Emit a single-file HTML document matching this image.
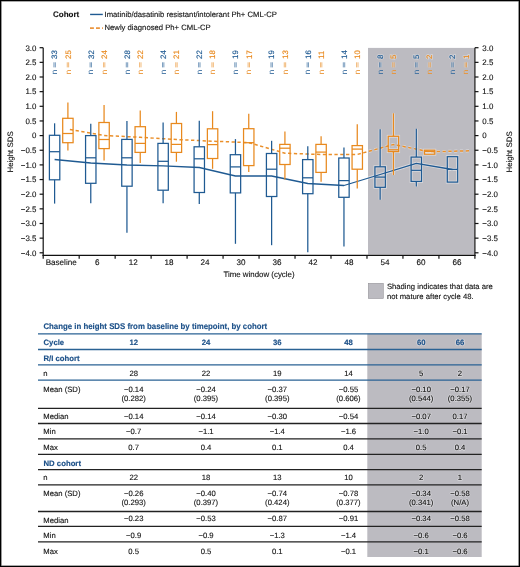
<!DOCTYPE html>
<html><head><meta charset="utf-8"><title>Height SDS</title><style>
html,body{margin:0;padding:0;background:#fff;}
body{width:520px;height:567px;overflow:hidden;position:relative;font-family:"Liberation Sans",sans-serif;}
svg{position:absolute;left:0;top:0;display:block;will-change:transform;}
.frame{position:absolute;left:0;top:0;width:518px;height:565px;border:1px solid #000;box-shadow:inset 0 0 0 0.6px #555;pointer-events:none;}
</style></head><body>
<svg width="520" height="567" viewBox="0 0 520 567" text-rendering="geometricPrecision">
<rect x="368.00" y="47.9" width="106.30" height="206.80" fill="#bcbbc1"/>
<defs><clipPath id="gc"><rect x="368.00" y="47.9" width="106.30" height="206.80"/></clipPath></defs>
<g clip-path="url(#gc)" opacity="0.45">
<g stroke="#fff" stroke-width="2.9" fill="none"><line x1="343.96" y1="147.5" x2="343.96" y2="158.0"/><line x1="343.96" y1="197.3" x2="343.96" y2="246.5"/><rect x="338.76" y="158.0" width="10.4" height="39.30" fill="none"/><line x1="338.76" y1="180.6" x2="349.16" y2="180.6"/></g>
<g stroke="#fff" stroke-width="2.9" fill="none"><line x1="357.26" y1="124.2" x2="357.26" y2="145.6"/><line x1="357.26" y1="169.2" x2="357.26" y2="188.6"/><rect x="352.06" y="145.6" width="10.4" height="23.60" fill="none"/><line x1="352.06" y1="149.1" x2="362.46" y2="149.1"/></g>
<g stroke="#fff" stroke-width="2.9" fill="none"><line x1="380.13" y1="129.2" x2="380.13" y2="166.8"/><line x1="380.13" y1="187.3" x2="380.13" y2="199.7"/><rect x="374.93" y="166.8" width="10.4" height="20.50" fill="none"/><line x1="374.93" y1="177.1" x2="385.33" y2="177.1"/></g>
<g stroke="#fff" stroke-width="2.9" fill="none"><line x1="393.43" y1="113.3" x2="393.43" y2="136.3"/><line x1="393.43" y1="151.6" x2="393.43" y2="175.1"/><rect x="388.23" y="136.3" width="10.4" height="15.30" fill="none"/><line x1="388.23" y1="149.8" x2="398.63" y2="149.8"/></g>
<g stroke="#fff" stroke-width="2.9" fill="none"><line x1="416.30" y1="128.8" x2="416.30" y2="157.1"/><line x1="416.30" y1="181.4" x2="416.30" y2="186.6"/><rect x="411.10" y="157.1" width="10.4" height="24.30" fill="none"/><line x1="411.10" y1="170.3" x2="421.50" y2="170.3"/></g>
<g stroke="#fff" stroke-width="2.9" fill="none"><rect x="424.40" y="150.2" width="10.4" height="4.00" fill="none"/><line x1="424.40" y1="151.4" x2="434.80" y2="151.4"/></g>
<g stroke="#fff" stroke-width="2.9" fill="none"><rect x="447.27" y="156.7" width="10.4" height="25.40" fill="none"/><line x1="447.27" y1="169.4" x2="457.67" y2="169.4"/></g>
<polyline points="54.60,159.5 90.77,163.0 126.94,165.0 163.11,165.9 199.28,167.5 235.45,176.0 271.62,176.0 307.79,183.5 343.96,185.5 380.13,174.5 416.30,163.3 452.47,169.5" fill="none" stroke="#fff" stroke-width="3"/>
<polyline points="67.90,129.2 104.07,135.5 140.24,137.3 176.41,139.5 212.58,141.2 248.75,142.6 284.92,153.2 321.09,154.5 357.26,154.5 393.43,144.5 429.60,151.8 469.5,150.8" fill="none" stroke="#fff" stroke-width="3" stroke-dasharray="3.2 2.6" stroke-dashoffset="-2"/>
</g>
<polyline points="54.60,159.5 90.77,163.0 126.94,165.0 163.11,165.9 199.28,167.5 235.45,176.0 271.62,176.0 307.79,183.5 343.96,185.5 380.13,174.5 416.30,163.3 452.47,169.5" fill="none" stroke="#1f5a92" stroke-width="1.3" stroke-linejoin="round"/>
<polyline points="67.90,129.2 104.07,135.5 140.24,137.3 176.41,139.5 212.58,141.2 248.75,142.6 284.92,153.2 321.09,154.5 357.26,154.5 393.43,144.5 429.60,151.8 469.5,150.8" fill="none" stroke="#ea8f2a" stroke-width="1.5" stroke-dasharray="3.3 2.5" stroke-dashoffset="-2"/>
<g stroke="#1f5a92" stroke-width="1.25" fill="none"><line x1="54.60" y1="123.3" x2="54.60" y2="135.3"/><line x1="54.60" y1="179.8" x2="54.60" y2="203.6"/><rect x="49.40" y="135.3" width="10.4" height="44.50" fill="none"/><line x1="49.40" y1="151.7" x2="59.80" y2="151.7"/></g>
<g stroke="#e8891e" stroke-width="1.25" fill="none"><line x1="67.90" y1="102.5" x2="67.90" y2="118.3"/><line x1="67.90" y1="142.7" x2="67.90" y2="150.6"/><rect x="62.70" y="118.3" width="10.4" height="24.40" fill="none"/><line x1="62.70" y1="133.5" x2="73.10" y2="133.5"/></g>
<g stroke="#1f5a92" stroke-width="1.25" fill="none"><line x1="90.77" y1="123.7" x2="90.77" y2="135.6"/><line x1="90.77" y1="183.3" x2="90.77" y2="203.2"/><rect x="85.57" y="135.6" width="10.4" height="47.70" fill="none"/><line x1="85.57" y1="157.8" x2="95.97" y2="157.8"/></g>
<g stroke="#e8891e" stroke-width="1.25" fill="none"><line x1="104.07" y1="105.0" x2="104.07" y2="122.5"/><line x1="104.07" y1="148.6" x2="104.07" y2="160.5"/><rect x="98.87" y="122.5" width="10.4" height="26.10" fill="none"/><line x1="98.87" y1="139.5" x2="109.27" y2="139.5"/></g>
<g stroke="#1f5a92" stroke-width="1.25" fill="none"><line x1="126.94" y1="121.1" x2="126.94" y2="139.4"/><line x1="126.94" y1="186.2" x2="126.94" y2="232.7"/><rect x="121.74" y="139.4" width="10.4" height="46.80" fill="none"/><line x1="121.74" y1="157.8" x2="132.14" y2="157.8"/></g>
<g stroke="#e8891e" stroke-width="1.25" fill="none"><line x1="140.24" y1="110.5" x2="140.24" y2="126.7"/><line x1="140.24" y1="152.4" x2="140.24" y2="163.1"/><rect x="135.04" y="126.7" width="10.4" height="25.70" fill="none"/><line x1="135.04" y1="143.4" x2="145.44" y2="143.4"/></g>
<g stroke="#1f5a92" stroke-width="1.25" fill="none"><line x1="163.11" y1="122.5" x2="163.11" y2="143.4"/><line x1="163.11" y1="190.2" x2="163.11" y2="203.2"/><rect x="157.91" y="143.4" width="10.4" height="46.80" fill="none"/><line x1="157.91" y1="161.3" x2="168.31" y2="161.3"/></g>
<g stroke="#e8891e" stroke-width="1.25" fill="none"><line x1="176.41" y1="111.9" x2="176.41" y2="123.5"/><line x1="176.41" y1="152.4" x2="176.41" y2="161.7"/><rect x="171.21" y="123.5" width="10.4" height="28.90" fill="none"/><line x1="171.21" y1="144.4" x2="181.61" y2="144.4"/></g>
<g stroke="#1f5a92" stroke-width="1.25" fill="none"><line x1="199.28" y1="120.8" x2="199.28" y2="146.8"/><line x1="199.28" y1="192.5" x2="199.28" y2="204.1"/><rect x="194.08" y="146.8" width="10.4" height="45.70" fill="none"/><line x1="194.08" y1="158.8" x2="204.48" y2="158.8"/></g>
<g stroke="#e8891e" stroke-width="1.25" fill="none"><line x1="212.58" y1="111.2" x2="212.58" y2="128.8"/><line x1="212.58" y1="158.5" x2="212.58" y2="168.8"/><rect x="207.38" y="128.8" width="10.4" height="29.70" fill="none"/><line x1="207.38" y1="144.6" x2="217.78" y2="144.6"/></g>
<g stroke="#1f5a92" stroke-width="1.25" fill="none"><line x1="235.45" y1="139.1" x2="235.45" y2="154.7"/><line x1="235.45" y1="192.9" x2="235.45" y2="243.8"/><rect x="230.25" y="154.7" width="10.4" height="38.20" fill="none"/><line x1="230.25" y1="166.9" x2="240.65" y2="166.9"/></g>
<g stroke="#e8891e" stroke-width="1.25" fill="none"><line x1="248.75" y1="113.7" x2="248.75" y2="128.7"/><line x1="248.75" y1="165.6" x2="248.75" y2="171.9"/><rect x="243.55" y="128.7" width="10.4" height="36.90" fill="none"/><line x1="243.55" y1="142.7" x2="253.95" y2="142.7"/></g>
<g stroke="#1f5a92" stroke-width="1.25" fill="none"><line x1="271.62" y1="140.8" x2="271.62" y2="153.5"/><line x1="271.62" y1="196.5" x2="271.62" y2="245.2"/><rect x="266.42" y="153.5" width="10.4" height="43.00" fill="none"/><line x1="266.42" y1="169.2" x2="276.82" y2="169.2"/></g>
<g stroke="#e8891e" stroke-width="1.25" fill="none"><line x1="284.92" y1="131.6" x2="284.92" y2="144.4"/><line x1="284.92" y1="164.5" x2="284.92" y2="179.4"/><rect x="279.72" y="144.4" width="10.4" height="20.10" fill="none"/><line x1="279.72" y1="148.2" x2="290.12" y2="148.2"/></g>
<g stroke="#1f5a92" stroke-width="1.25" fill="none"><line x1="307.79" y1="146.2" x2="307.79" y2="159.6"/><line x1="307.79" y1="193.7" x2="307.79" y2="252.3"/><rect x="302.59" y="159.6" width="10.4" height="34.10" fill="none"/><line x1="302.59" y1="177.8" x2="312.99" y2="177.8"/></g>
<g stroke="#e8891e" stroke-width="1.25" fill="none"><line x1="321.09" y1="136.3" x2="321.09" y2="144.4"/><line x1="321.09" y1="172.4" x2="321.09" y2="181.7"/><rect x="315.89" y="144.4" width="10.4" height="28.00" fill="none"/><line x1="315.89" y1="152.1" x2="326.29" y2="152.1"/></g>
<g stroke="#1f5a92" stroke-width="1.25" fill="none"><line x1="343.96" y1="147.5" x2="343.96" y2="158.0"/><line x1="343.96" y1="197.3" x2="343.96" y2="246.5"/><rect x="338.76" y="158.0" width="10.4" height="39.30" fill="none"/><line x1="338.76" y1="180.6" x2="349.16" y2="180.6"/></g>
<g stroke="#e8891e" stroke-width="1.25" fill="none"><line x1="357.26" y1="124.2" x2="357.26" y2="145.6"/><line x1="357.26" y1="169.2" x2="357.26" y2="188.6"/><rect x="352.06" y="145.6" width="10.4" height="23.60" fill="none"/><line x1="352.06" y1="149.1" x2="362.46" y2="149.1"/></g>
<g stroke="#1f5a92" stroke-width="1.25" fill="none"><line x1="380.13" y1="129.2" x2="380.13" y2="166.8"/><line x1="380.13" y1="187.3" x2="380.13" y2="199.7"/><rect x="374.93" y="166.8" width="10.4" height="20.50" fill="none"/><line x1="374.93" y1="177.1" x2="385.33" y2="177.1"/></g>
<g stroke="#e8891e" stroke-width="1.25" fill="none"><line x1="393.43" y1="113.3" x2="393.43" y2="136.3"/><line x1="393.43" y1="151.6" x2="393.43" y2="175.1"/><rect x="388.23" y="136.3" width="10.4" height="15.30" fill="none"/><line x1="388.23" y1="149.8" x2="398.63" y2="149.8"/></g>
<g stroke="#1f5a92" stroke-width="1.25" fill="none"><line x1="416.30" y1="128.8" x2="416.30" y2="157.1"/><line x1="416.30" y1="181.4" x2="416.30" y2="186.6"/><rect x="411.10" y="157.1" width="10.4" height="24.30" fill="none"/><line x1="411.10" y1="170.3" x2="421.50" y2="170.3"/></g>
<g stroke="#e8891e" stroke-width="1.25" fill="none"><rect x="424.40" y="150.2" width="10.4" height="4.00" fill="none"/><line x1="424.40" y1="151.4" x2="434.80" y2="151.4"/></g>
<g stroke="#1f5a92" stroke-width="1.25" fill="none"><rect x="447.27" y="156.7" width="10.4" height="25.40" fill="none"/><line x1="447.27" y1="169.4" x2="457.67" y2="169.4"/></g>
<line x1="425.80" y1="152.9" x2="433.40" y2="152.9" stroke="#f3e6d8" stroke-width="0.8"/>
<g stroke="#111" stroke-width="1.2" fill="none">
<line x1="43.2" y1="47.7" x2="43.2" y2="255.9"/>
<line x1="474.9" y1="47.7" x2="474.9" y2="255.9"/>
<line x1="42.6" y1="255.3" x2="475.5" y2="255.3"/>
<line x1="39.6" y1="47.70" x2="43.2" y2="47.70"/>
<line x1="474.9" y1="47.70" x2="478.5" y2="47.70"/>
<line x1="39.6" y1="62.35" x2="43.2" y2="62.35"/>
<line x1="474.9" y1="62.35" x2="478.5" y2="62.35"/>
<line x1="39.6" y1="77.00" x2="43.2" y2="77.00"/>
<line x1="474.9" y1="77.00" x2="478.5" y2="77.00"/>
<line x1="39.6" y1="91.65" x2="43.2" y2="91.65"/>
<line x1="474.9" y1="91.65" x2="478.5" y2="91.65"/>
<line x1="39.6" y1="106.30" x2="43.2" y2="106.30"/>
<line x1="474.9" y1="106.30" x2="478.5" y2="106.30"/>
<line x1="39.6" y1="120.95" x2="43.2" y2="120.95"/>
<line x1="474.9" y1="120.95" x2="478.5" y2="120.95"/>
<line x1="39.6" y1="135.60" x2="43.2" y2="135.60"/>
<line x1="474.9" y1="135.60" x2="478.5" y2="135.60"/>
<line x1="39.6" y1="150.25" x2="43.2" y2="150.25"/>
<line x1="474.9" y1="150.25" x2="478.5" y2="150.25"/>
<line x1="39.6" y1="164.90" x2="43.2" y2="164.90"/>
<line x1="474.9" y1="164.90" x2="478.5" y2="164.90"/>
<line x1="39.6" y1="179.55" x2="43.2" y2="179.55"/>
<line x1="474.9" y1="179.55" x2="478.5" y2="179.55"/>
<line x1="39.6" y1="194.20" x2="43.2" y2="194.20"/>
<line x1="474.9" y1="194.20" x2="478.5" y2="194.20"/>
<line x1="39.6" y1="208.85" x2="43.2" y2="208.85"/>
<line x1="474.9" y1="208.85" x2="478.5" y2="208.85"/>
<line x1="39.6" y1="223.50" x2="43.2" y2="223.50"/>
<line x1="474.9" y1="223.50" x2="478.5" y2="223.50"/>
<line x1="39.6" y1="238.15" x2="43.2" y2="238.15"/>
<line x1="474.9" y1="238.15" x2="478.5" y2="238.15"/>
<line x1="39.6" y1="252.80" x2="43.2" y2="252.80"/>
<line x1="474.9" y1="252.80" x2="478.5" y2="252.80"/>
<line x1="43.20" y1="255.3" x2="43.20" y2="258.7"/>
<line x1="79.18" y1="255.3" x2="79.18" y2="258.7"/>
<line x1="115.15" y1="255.3" x2="115.15" y2="258.7"/>
<line x1="151.12" y1="255.3" x2="151.12" y2="258.7"/>
<line x1="187.10" y1="255.3" x2="187.10" y2="258.7"/>
<line x1="223.07" y1="255.3" x2="223.07" y2="258.7"/>
<line x1="259.05" y1="255.3" x2="259.05" y2="258.7"/>
<line x1="295.03" y1="255.3" x2="295.03" y2="258.7"/>
<line x1="331.00" y1="255.3" x2="331.00" y2="258.7"/>
<line x1="366.98" y1="255.3" x2="366.98" y2="258.7"/>
<line x1="402.95" y1="255.3" x2="402.95" y2="258.7"/>
<line x1="438.93" y1="255.3" x2="438.93" y2="258.7"/>
<line x1="474.90" y1="255.3" x2="474.90" y2="258.7"/>
</g>
<g font-family="Liberation Sans, sans-serif" font-size="7.9" fill="#111111" stroke="#111" stroke-width="0.12">
<text x="36.4" y="50.50" text-anchor="end">3.0</text>
<text x="482.3" y="50.50">3.0</text>
<text x="36.4" y="65.15" text-anchor="end">2.5</text>
<text x="482.3" y="65.15">2.5</text>
<text x="36.4" y="79.80" text-anchor="end">2.0</text>
<text x="482.3" y="79.80">2.0</text>
<text x="36.4" y="94.45" text-anchor="end">1.5</text>
<text x="482.3" y="94.45">1.5</text>
<text x="36.4" y="109.10" text-anchor="end">1.0</text>
<text x="482.3" y="109.10">1.0</text>
<text x="36.4" y="123.75" text-anchor="end">0.5</text>
<text x="482.3" y="123.75">0.5</text>
<text x="36.4" y="138.40" text-anchor="end">0</text>
<text x="482.3" y="138.40">0</text>
<text x="36.4" y="153.05" text-anchor="end">−0.5</text>
<text x="482.3" y="153.05">−0.5</text>
<text x="36.4" y="167.70" text-anchor="end">−1.0</text>
<text x="482.3" y="167.70">−1.0</text>
<text x="36.4" y="182.35" text-anchor="end">−1.5</text>
<text x="482.3" y="182.35">−1.5</text>
<text x="36.4" y="197.00" text-anchor="end">−2.0</text>
<text x="482.3" y="197.00">−2.0</text>
<text x="36.4" y="211.65" text-anchor="end">−2.5</text>
<text x="482.3" y="211.65">−2.5</text>
<text x="36.4" y="226.30" text-anchor="end">−3.0</text>
<text x="482.3" y="226.30">−3.0</text>
<text x="36.4" y="240.95" text-anchor="end">−3.5</text>
<text x="482.3" y="240.95">−3.5</text>
<text x="36.4" y="255.60" text-anchor="end">−4.0</text>
<text x="482.3" y="255.60">−4.0</text>
<text x="61.19" y="265.1" text-anchor="middle" font-size="8.1">Baseline</text>
<text x="97.16" y="265.1" text-anchor="middle" font-size="8.1">6</text>
<text x="133.14" y="265.1" text-anchor="middle" font-size="8.1">12</text>
<text x="169.11" y="265.1" text-anchor="middle" font-size="8.1">18</text>
<text x="205.09" y="265.1" text-anchor="middle" font-size="8.1">24</text>
<text x="241.06" y="265.1" text-anchor="middle" font-size="8.1">30</text>
<text x="277.04" y="265.1" text-anchor="middle" font-size="8.1">36</text>
<text x="313.01" y="265.1" text-anchor="middle" font-size="8.1">42</text>
<text x="348.99" y="265.1" text-anchor="middle" font-size="8.1">48</text>
<text x="384.96" y="265.1" text-anchor="middle" font-size="8.1">54</text>
<text x="420.94" y="265.1" text-anchor="middle" font-size="8.1">60</text>
<text x="456.91" y="265.1" text-anchor="middle" font-size="8.1">66</text>
<text x="259" y="277.4" text-anchor="middle">Time window (cycle)</text>
<text transform="translate(13.2,151.9) rotate(-90)" text-anchor="middle">Height SDS</text>
<text transform="translate(511.8,151.9) rotate(-90)" text-anchor="middle">Height SDS</text>
</g>
<g font-family="Liberation Sans, sans-serif" font-size="8.2">
<g opacity="0.4">
<text transform="translate(382.73,74.3) rotate(-90)" fill="#fff" font-size="8">n</text><line x1="379.48" y1="62.3" x2="379.48" y2="67.4" stroke="#fff" stroke-width="2.4" opacity="0.8"/><line x1="380.88" y1="62.3" x2="380.88" y2="67.4" stroke="#fff" stroke-width="2.4" opacity="0.8"/><text transform="translate(382.88,59.0) rotate(-90)" fill="#fff" stroke="#fff" stroke-width="1.6" font-size="7.9">8</text>
<text transform="translate(396.03,74.3) rotate(-90)" fill="#fff" font-size="8">n</text><line x1="392.78" y1="62.3" x2="392.78" y2="67.4" stroke="#fff" stroke-width="2.4" opacity="0.8"/><line x1="394.18" y1="62.3" x2="394.18" y2="67.4" stroke="#fff" stroke-width="2.4" opacity="0.8"/><text transform="translate(396.18,59.0) rotate(-90)" fill="#fff" stroke="#fff" stroke-width="1.6" font-size="7.9">5</text>
<text transform="translate(418.90,74.3) rotate(-90)" fill="#fff" font-size="8">n</text><line x1="415.65" y1="62.3" x2="415.65" y2="67.4" stroke="#fff" stroke-width="2.4" opacity="0.8"/><line x1="417.05" y1="62.3" x2="417.05" y2="67.4" stroke="#fff" stroke-width="2.4" opacity="0.8"/><text transform="translate(419.05,59.0) rotate(-90)" fill="#fff" stroke="#fff" stroke-width="1.6" font-size="7.9">5</text>
<text transform="translate(432.20,74.3) rotate(-90)" fill="#fff" font-size="8">n</text><line x1="428.95" y1="62.3" x2="428.95" y2="67.4" stroke="#fff" stroke-width="2.4" opacity="0.8"/><line x1="430.35" y1="62.3" x2="430.35" y2="67.4" stroke="#fff" stroke-width="2.4" opacity="0.8"/><text transform="translate(432.35,59.0) rotate(-90)" fill="#fff" stroke="#fff" stroke-width="1.6" font-size="7.9">2</text>
<text transform="translate(455.07,74.3) rotate(-90)" fill="#fff" font-size="8">n</text><line x1="451.82" y1="62.3" x2="451.82" y2="67.4" stroke="#fff" stroke-width="2.4" opacity="0.8"/><line x1="453.22" y1="62.3" x2="453.22" y2="67.4" stroke="#fff" stroke-width="2.4" opacity="0.8"/><text transform="translate(455.22,59.0) rotate(-90)" fill="#fff" stroke="#fff" stroke-width="1.6" font-size="7.9">2</text>
<text transform="translate(468.37,74.3) rotate(-90)" fill="#fff" font-size="8">n</text><line x1="465.12" y1="62.3" x2="465.12" y2="67.4" stroke="#fff" stroke-width="2.4" opacity="0.8"/><line x1="466.52" y1="62.3" x2="466.52" y2="67.4" stroke="#fff" stroke-width="2.4" opacity="0.8"/><text transform="translate(468.52,59.0) rotate(-90)" fill="#fff" stroke="#fff" stroke-width="1.6" font-size="7.9">1</text>
</g>
<text transform="translate(57.20,74.3) rotate(-90)" fill="#1f5a92" font-size="8">n</text><line x1="53.95" y1="62.3" x2="53.95" y2="67.4" stroke="#1f5a92" stroke-width="0.75" opacity="0.8"/><line x1="55.35" y1="62.3" x2="55.35" y2="67.4" stroke="#1f5a92" stroke-width="0.75" opacity="0.8"/><text transform="translate(57.35,59.0) rotate(-90)" fill="#1f5a92" stroke="#1f5a92" stroke-width="0.15" font-size="7.9">33</text>
<text transform="translate(70.50,74.3) rotate(-90)" fill="#e8891e" font-size="8">n</text><line x1="67.25" y1="62.3" x2="67.25" y2="67.4" stroke="#e8891e" stroke-width="0.75" opacity="0.8"/><line x1="68.65" y1="62.3" x2="68.65" y2="67.4" stroke="#e8891e" stroke-width="0.75" opacity="0.8"/><text transform="translate(70.65,59.0) rotate(-90)" fill="#e8891e" stroke="#e8891e" stroke-width="0.15" font-size="7.9">25</text>
<text transform="translate(93.37,74.3) rotate(-90)" fill="#1f5a92" font-size="8">n</text><line x1="90.12" y1="62.3" x2="90.12" y2="67.4" stroke="#1f5a92" stroke-width="0.75" opacity="0.8"/><line x1="91.52" y1="62.3" x2="91.52" y2="67.4" stroke="#1f5a92" stroke-width="0.75" opacity="0.8"/><text transform="translate(93.52,59.0) rotate(-90)" fill="#1f5a92" stroke="#1f5a92" stroke-width="0.15" font-size="7.9">32</text>
<text transform="translate(106.67,74.3) rotate(-90)" fill="#e8891e" font-size="8">n</text><line x1="103.42" y1="62.3" x2="103.42" y2="67.4" stroke="#e8891e" stroke-width="0.75" opacity="0.8"/><line x1="104.82" y1="62.3" x2="104.82" y2="67.4" stroke="#e8891e" stroke-width="0.75" opacity="0.8"/><text transform="translate(106.82,59.0) rotate(-90)" fill="#e8891e" stroke="#e8891e" stroke-width="0.15" font-size="7.9">24</text>
<text transform="translate(129.54,74.3) rotate(-90)" fill="#1f5a92" font-size="8">n</text><line x1="126.29" y1="62.3" x2="126.29" y2="67.4" stroke="#1f5a92" stroke-width="0.75" opacity="0.8"/><line x1="127.69" y1="62.3" x2="127.69" y2="67.4" stroke="#1f5a92" stroke-width="0.75" opacity="0.8"/><text transform="translate(129.69,59.0) rotate(-90)" fill="#1f5a92" stroke="#1f5a92" stroke-width="0.15" font-size="7.9">28</text>
<text transform="translate(142.84,74.3) rotate(-90)" fill="#e8891e" font-size="8">n</text><line x1="139.59" y1="62.3" x2="139.59" y2="67.4" stroke="#e8891e" stroke-width="0.75" opacity="0.8"/><line x1="140.99" y1="62.3" x2="140.99" y2="67.4" stroke="#e8891e" stroke-width="0.75" opacity="0.8"/><text transform="translate(142.99,59.0) rotate(-90)" fill="#e8891e" stroke="#e8891e" stroke-width="0.15" font-size="7.9">22</text>
<text transform="translate(165.71,74.3) rotate(-90)" fill="#1f5a92" font-size="8">n</text><line x1="162.46" y1="62.3" x2="162.46" y2="67.4" stroke="#1f5a92" stroke-width="0.75" opacity="0.8"/><line x1="163.86" y1="62.3" x2="163.86" y2="67.4" stroke="#1f5a92" stroke-width="0.75" opacity="0.8"/><text transform="translate(165.86,59.0) rotate(-90)" fill="#1f5a92" stroke="#1f5a92" stroke-width="0.15" font-size="7.9">24</text>
<text transform="translate(179.01,74.3) rotate(-90)" fill="#e8891e" font-size="8">n</text><line x1="175.76" y1="62.3" x2="175.76" y2="67.4" stroke="#e8891e" stroke-width="0.75" opacity="0.8"/><line x1="177.16" y1="62.3" x2="177.16" y2="67.4" stroke="#e8891e" stroke-width="0.75" opacity="0.8"/><text transform="translate(179.16,59.0) rotate(-90)" fill="#e8891e" stroke="#e8891e" stroke-width="0.15" font-size="7.9">21</text>
<text transform="translate(201.88,74.3) rotate(-90)" fill="#1f5a92" font-size="8">n</text><line x1="198.63" y1="62.3" x2="198.63" y2="67.4" stroke="#1f5a92" stroke-width="0.75" opacity="0.8"/><line x1="200.03" y1="62.3" x2="200.03" y2="67.4" stroke="#1f5a92" stroke-width="0.75" opacity="0.8"/><text transform="translate(202.03,59.0) rotate(-90)" fill="#1f5a92" stroke="#1f5a92" stroke-width="0.15" font-size="7.9">22</text>
<text transform="translate(215.18,74.3) rotate(-90)" fill="#e8891e" font-size="8">n</text><line x1="211.93" y1="62.3" x2="211.93" y2="67.4" stroke="#e8891e" stroke-width="0.75" opacity="0.8"/><line x1="213.33" y1="62.3" x2="213.33" y2="67.4" stroke="#e8891e" stroke-width="0.75" opacity="0.8"/><text transform="translate(215.33,59.0) rotate(-90)" fill="#e8891e" stroke="#e8891e" stroke-width="0.15" font-size="7.9">18</text>
<text transform="translate(238.05,74.3) rotate(-90)" fill="#1f5a92" font-size="8">n</text><line x1="234.80" y1="62.3" x2="234.80" y2="67.4" stroke="#1f5a92" stroke-width="0.75" opacity="0.8"/><line x1="236.20" y1="62.3" x2="236.20" y2="67.4" stroke="#1f5a92" stroke-width="0.75" opacity="0.8"/><text transform="translate(238.20,59.0) rotate(-90)" fill="#1f5a92" stroke="#1f5a92" stroke-width="0.15" font-size="7.9">19</text>
<text transform="translate(251.35,74.3) rotate(-90)" fill="#e8891e" font-size="8">n</text><line x1="248.10" y1="62.3" x2="248.10" y2="67.4" stroke="#e8891e" stroke-width="0.75" opacity="0.8"/><line x1="249.50" y1="62.3" x2="249.50" y2="67.4" stroke="#e8891e" stroke-width="0.75" opacity="0.8"/><text transform="translate(251.50,59.0) rotate(-90)" fill="#e8891e" stroke="#e8891e" stroke-width="0.15" font-size="7.9">17</text>
<text transform="translate(274.22,74.3) rotate(-90)" fill="#1f5a92" font-size="8">n</text><line x1="270.97" y1="62.3" x2="270.97" y2="67.4" stroke="#1f5a92" stroke-width="0.75" opacity="0.8"/><line x1="272.37" y1="62.3" x2="272.37" y2="67.4" stroke="#1f5a92" stroke-width="0.75" opacity="0.8"/><text transform="translate(274.37,59.0) rotate(-90)" fill="#1f5a92" stroke="#1f5a92" stroke-width="0.15" font-size="7.9">19</text>
<text transform="translate(287.52,74.3) rotate(-90)" fill="#e8891e" font-size="8">n</text><line x1="284.27" y1="62.3" x2="284.27" y2="67.4" stroke="#e8891e" stroke-width="0.75" opacity="0.8"/><line x1="285.67" y1="62.3" x2="285.67" y2="67.4" stroke="#e8891e" stroke-width="0.75" opacity="0.8"/><text transform="translate(287.67,59.0) rotate(-90)" fill="#e8891e" stroke="#e8891e" stroke-width="0.15" font-size="7.9">13</text>
<text transform="translate(310.39,74.3) rotate(-90)" fill="#1f5a92" font-size="8">n</text><line x1="307.14" y1="62.3" x2="307.14" y2="67.4" stroke="#1f5a92" stroke-width="0.75" opacity="0.8"/><line x1="308.54" y1="62.3" x2="308.54" y2="67.4" stroke="#1f5a92" stroke-width="0.75" opacity="0.8"/><text transform="translate(310.54,59.0) rotate(-90)" fill="#1f5a92" stroke="#1f5a92" stroke-width="0.15" font-size="7.9">16</text>
<text transform="translate(323.69,74.3) rotate(-90)" fill="#e8891e" font-size="8">n</text><line x1="320.44" y1="62.3" x2="320.44" y2="67.4" stroke="#e8891e" stroke-width="0.75" opacity="0.8"/><line x1="321.84" y1="62.3" x2="321.84" y2="67.4" stroke="#e8891e" stroke-width="0.75" opacity="0.8"/><text transform="translate(323.84,59.0) rotate(-90)" fill="#e8891e" stroke="#e8891e" stroke-width="0.15" font-size="7.9">11</text>
<text transform="translate(346.56,74.3) rotate(-90)" fill="#1f5a92" font-size="8">n</text><line x1="343.31" y1="62.3" x2="343.31" y2="67.4" stroke="#1f5a92" stroke-width="0.75" opacity="0.8"/><line x1="344.71" y1="62.3" x2="344.71" y2="67.4" stroke="#1f5a92" stroke-width="0.75" opacity="0.8"/><text transform="translate(346.71,59.0) rotate(-90)" fill="#1f5a92" stroke="#1f5a92" stroke-width="0.15" font-size="7.9">14</text>
<text transform="translate(359.86,74.3) rotate(-90)" fill="#e8891e" font-size="8">n</text><line x1="356.61" y1="62.3" x2="356.61" y2="67.4" stroke="#e8891e" stroke-width="0.75" opacity="0.8"/><line x1="358.01" y1="62.3" x2="358.01" y2="67.4" stroke="#e8891e" stroke-width="0.75" opacity="0.8"/><text transform="translate(360.01,59.0) rotate(-90)" fill="#e8891e" stroke="#e8891e" stroke-width="0.15" font-size="7.9">10</text>
<text transform="translate(382.73,74.3) rotate(-90)" fill="#1f5a92" font-size="8">n</text><line x1="379.48" y1="62.3" x2="379.48" y2="67.4" stroke="#1f5a92" stroke-width="0.75" opacity="0.8"/><line x1="380.88" y1="62.3" x2="380.88" y2="67.4" stroke="#1f5a92" stroke-width="0.75" opacity="0.8"/><text transform="translate(382.88,59.0) rotate(-90)" fill="#1f5a92" stroke="#1f5a92" stroke-width="0.15" font-size="7.9">8</text>
<text transform="translate(396.03,74.3) rotate(-90)" fill="#e8891e" font-size="8">n</text><line x1="392.78" y1="62.3" x2="392.78" y2="67.4" stroke="#e8891e" stroke-width="0.75" opacity="0.8"/><line x1="394.18" y1="62.3" x2="394.18" y2="67.4" stroke="#e8891e" stroke-width="0.75" opacity="0.8"/><text transform="translate(396.18,59.0) rotate(-90)" fill="#e8891e" stroke="#e8891e" stroke-width="0.15" font-size="7.9">5</text>
<text transform="translate(418.90,74.3) rotate(-90)" fill="#1f5a92" font-size="8">n</text><line x1="415.65" y1="62.3" x2="415.65" y2="67.4" stroke="#1f5a92" stroke-width="0.75" opacity="0.8"/><line x1="417.05" y1="62.3" x2="417.05" y2="67.4" stroke="#1f5a92" stroke-width="0.75" opacity="0.8"/><text transform="translate(419.05,59.0) rotate(-90)" fill="#1f5a92" stroke="#1f5a92" stroke-width="0.15" font-size="7.9">5</text>
<text transform="translate(432.20,74.3) rotate(-90)" fill="#e8891e" font-size="8">n</text><line x1="428.95" y1="62.3" x2="428.95" y2="67.4" stroke="#e8891e" stroke-width="0.75" opacity="0.8"/><line x1="430.35" y1="62.3" x2="430.35" y2="67.4" stroke="#e8891e" stroke-width="0.75" opacity="0.8"/><text transform="translate(432.35,59.0) rotate(-90)" fill="#e8891e" stroke="#e8891e" stroke-width="0.15" font-size="7.9">2</text>
<text transform="translate(455.07,74.3) rotate(-90)" fill="#1f5a92" font-size="8">n</text><line x1="451.82" y1="62.3" x2="451.82" y2="67.4" stroke="#1f5a92" stroke-width="0.75" opacity="0.8"/><line x1="453.22" y1="62.3" x2="453.22" y2="67.4" stroke="#1f5a92" stroke-width="0.75" opacity="0.8"/><text transform="translate(455.22,59.0) rotate(-90)" fill="#1f5a92" stroke="#1f5a92" stroke-width="0.15" font-size="7.9">2</text>
<text transform="translate(468.37,74.3) rotate(-90)" fill="#e8891e" font-size="8">n</text><line x1="465.12" y1="62.3" x2="465.12" y2="67.4" stroke="#e8891e" stroke-width="0.75" opacity="0.8"/><line x1="466.52" y1="62.3" x2="466.52" y2="67.4" stroke="#e8891e" stroke-width="0.75" opacity="0.8"/><text transform="translate(468.52,59.0) rotate(-90)" fill="#e8891e" stroke="#e8891e" stroke-width="0.15" font-size="7.9">1</text>
</g>
<g font-family="Liberation Sans, sans-serif" font-size="7.7" fill="#111111" stroke="#111" stroke-width="0.12">
<text x="53" y="17.3" font-weight="bold" font-size="8">Cohort</text>
<line x1="90.1" y1="14.45" x2="102.8" y2="14.45" stroke="#1f5a92" stroke-width="1.4"/>
<line x1="90.0" y1="28.05" x2="102.9" y2="28.05" stroke="#eb9640" stroke-width="1.8" stroke-dasharray="3.9 2.1"/>
<text x="104.5" y="17.1">Imatinib/dasatinib resistant/intolerant Ph+ CML-CP</text>
<text x="104.5" y="30.1">Newly diagnosed Ph+ CML-CP</text>
<rect x="368.1" y="283.1" width="15.6" height="15.7" fill="#bcbbc1"/>
<text x="386.9" y="288.8">Shading indicates that data are</text>
<text x="386.9" y="298.5">not mature after cycle 48.</text>
</g>
<rect x="367.3" y="333.7" width="114.40" height="223.30" fill="#bcbbc1"/>
<line x1="38.0" y1="333.9" x2="481.7" y2="333.9" stroke="#2a6294" stroke-width="1.3"/>
<line x1="38.0" y1="349.5" x2="481.7" y2="349.5" stroke="#2a6294" stroke-width="1.3"/>
<line x1="38.0" y1="364.8" x2="481.7" y2="364.8" stroke="#2a6294" stroke-width="1.3"/>
<line x1="38.0" y1="380.2" x2="481.7" y2="380.2" stroke="#2a6294" stroke-width="1.3"/>
<line x1="38.0" y1="408.3" x2="481.7" y2="408.3" stroke="#222" stroke-width="1.3"/>
<line x1="38.0" y1="423.5" x2="481.7" y2="423.5" stroke="#222" stroke-width="1.3"/>
<line x1="38.0" y1="438.8" x2="481.7" y2="438.8" stroke="#222" stroke-width="1.3"/>
<line x1="38.0" y1="454.3" x2="481.7" y2="454.3" stroke="#222" stroke-width="1.3"/>
<line x1="38.0" y1="469.6" x2="481.7" y2="469.6" stroke="#222" stroke-width="1.3"/>
<line x1="38.0" y1="484.9" x2="481.7" y2="484.9" stroke="#222" stroke-width="1.3"/>
<line x1="38.0" y1="511.5" x2="481.7" y2="511.5" stroke="#222" stroke-width="1.3"/>
<line x1="38.0" y1="526.3" x2="481.7" y2="526.3" stroke="#222" stroke-width="1.3"/>
<line x1="38.0" y1="541.8" x2="481.7" y2="541.8" stroke="#222" stroke-width="1.3"/>
<g font-family="Liberation Sans, sans-serif" font-size="7.75" fill="#1d5189" font-weight="bold" stroke="#1d5189" stroke-width="0.15">
<text transform="translate(43.4,328.7) scale(0.95,1)" font-size="8.25">Change in height SDS from baseline by timepoint, by cohort</text>
<text x="43.5" y="344.7">Cycle</text>
<text x="421.2" y="344.7" text-anchor="middle" fill="none" stroke="#fff" stroke-width="1.6" opacity="0.4">60</text>
<text x="460.0" y="344.7" text-anchor="middle" fill="none" stroke="#fff" stroke-width="1.6" opacity="0.4">66</text>
<text x="133.7" y="344.7" text-anchor="middle">12</text>
<text x="206.0" y="344.7" text-anchor="middle">24</text>
<text x="277.3" y="344.7" text-anchor="middle">36</text>
<text x="348.5" y="344.7" text-anchor="middle">48</text>
<text x="421.2" y="344.7" text-anchor="middle">60</text>
<text x="460.0" y="344.7" text-anchor="middle">66</text>
<text x="43.5" y="360.8">R/I cohort</text>
<text x="43.5" y="466.1">ND cohort</text>
</g>
<g font-family="Liberation Sans, sans-serif" font-size="7.7" fill="none" stroke="#fff" stroke-width="1.6" opacity="0.4" stroke-linejoin="round">
<text x="421.2" y="375.8" text-anchor="middle">5</text>
<text x="460.0" y="375.8" text-anchor="middle">2</text>
<text x="421.2" y="391.7" text-anchor="middle">−0.10</text>
<text x="460.0" y="391.7" text-anchor="middle">−0.17</text>
<text x="421.2" y="401.3" text-anchor="middle">(0.544)</text>
<text x="460.0" y="401.3" text-anchor="middle">(0.355)</text>
<text x="421.2" y="418.7" text-anchor="middle">−0.07</text>
<text x="460.0" y="418.7" text-anchor="middle">0.17</text>
<text x="421.2" y="434.0" text-anchor="middle">−1.0</text>
<text x="460.0" y="434.0" text-anchor="middle">−0.1</text>
<text x="421.2" y="449.8" text-anchor="middle">0.5</text>
<text x="460.0" y="449.8" text-anchor="middle">0.4</text>
<text x="421.2" y="480.2" text-anchor="middle">2</text>
<text x="460.0" y="480.2" text-anchor="middle">1</text>
<text x="421.2" y="495.8" text-anchor="middle">−0.34</text>
<text x="460.0" y="495.8" text-anchor="middle">−0.58</text>
<text x="421.2" y="505.4" text-anchor="middle">(0.341)</text>
<text x="460.0" y="505.4" text-anchor="middle">(N/A)</text>
<text x="421.2" y="521.4" text-anchor="middle">−0.34</text>
<text x="460.0" y="521.4" text-anchor="middle">−0.58</text>
<text x="421.2" y="537.6" text-anchor="middle">−0.6</text>
<text x="460.0" y="537.6" text-anchor="middle">−0.6</text>
<text x="421.2" y="553.8" text-anchor="middle">−0.1</text>
<text x="460.0" y="553.8" text-anchor="middle">−0.6</text>
</g>
<g font-family="Liberation Sans, sans-serif" font-size="7.7" fill="#111111" stroke="#111" stroke-width="0.12">
<text x="43.3" y="375.8">n</text>
<text x="133.7" y="375.8" text-anchor="middle">28</text>
<text x="206.0" y="375.8" text-anchor="middle">22</text>
<text x="277.3" y="375.8" text-anchor="middle">19</text>
<text x="348.5" y="375.8" text-anchor="middle">14</text>
<text x="421.2" y="375.8" text-anchor="middle">5</text>
<text x="460.0" y="375.8" text-anchor="middle">2</text>
<text x="43.3" y="391.7">Mean (SD)</text>
<text x="133.7" y="391.7" text-anchor="middle">−0.14</text>
<text x="206.0" y="391.7" text-anchor="middle">−0.24</text>
<text x="277.3" y="391.7" text-anchor="middle">−0.37</text>
<text x="348.5" y="391.7" text-anchor="middle">−0.55</text>
<text x="421.2" y="391.7" text-anchor="middle">−0.10</text>
<text x="460.0" y="391.7" text-anchor="middle">−0.17</text>
<text x="133.7" y="401.3" text-anchor="middle">(0.282)</text>
<text x="206.0" y="401.3" text-anchor="middle">(0.395)</text>
<text x="277.3" y="401.3" text-anchor="middle">(0.395)</text>
<text x="348.5" y="401.3" text-anchor="middle">(0.606)</text>
<text x="421.2" y="401.3" text-anchor="middle">(0.544)</text>
<text x="460.0" y="401.3" text-anchor="middle">(0.355)</text>
<text x="43.3" y="418.7">Median</text>
<text x="133.7" y="418.7" text-anchor="middle">−0.14</text>
<text x="206.0" y="418.7" text-anchor="middle">−0.14</text>
<text x="277.3" y="418.7" text-anchor="middle">−0.30</text>
<text x="348.5" y="418.7" text-anchor="middle">−0.54</text>
<text x="421.2" y="418.7" text-anchor="middle">−0.07</text>
<text x="460.0" y="418.7" text-anchor="middle">0.17</text>
<text x="43.3" y="434.0">Min</text>
<text x="133.7" y="434.0" text-anchor="middle">−0.7</text>
<text x="206.0" y="434.0" text-anchor="middle">−1.1</text>
<text x="277.3" y="434.0" text-anchor="middle">−1.4</text>
<text x="348.5" y="434.0" text-anchor="middle">−1.6</text>
<text x="421.2" y="434.0" text-anchor="middle">−1.0</text>
<text x="460.0" y="434.0" text-anchor="middle">−0.1</text>
<text x="43.3" y="449.8">Max</text>
<text x="133.7" y="449.8" text-anchor="middle">0.7</text>
<text x="206.0" y="449.8" text-anchor="middle">0.4</text>
<text x="277.3" y="449.8" text-anchor="middle">0.1</text>
<text x="348.5" y="449.8" text-anchor="middle">0.4</text>
<text x="421.2" y="449.8" text-anchor="middle">0.5</text>
<text x="460.0" y="449.8" text-anchor="middle">0.4</text>
<text x="43.3" y="480.2">n</text>
<text x="133.7" y="480.2" text-anchor="middle">22</text>
<text x="206.0" y="480.2" text-anchor="middle">18</text>
<text x="277.3" y="480.2" text-anchor="middle">13</text>
<text x="348.5" y="480.2" text-anchor="middle">10</text>
<text x="421.2" y="480.2" text-anchor="middle">2</text>
<text x="460.0" y="480.2" text-anchor="middle">1</text>
<text x="43.3" y="495.8">Mean (SD)</text>
<text x="133.7" y="495.8" text-anchor="middle">−0.26</text>
<text x="206.0" y="495.8" text-anchor="middle">−0.40</text>
<text x="277.3" y="495.8" text-anchor="middle">−0.74</text>
<text x="348.5" y="495.8" text-anchor="middle">−0.78</text>
<text x="421.2" y="495.8" text-anchor="middle">−0.34</text>
<text x="460.0" y="495.8" text-anchor="middle">−0.58</text>
<text x="133.7" y="505.4" text-anchor="middle">(0.293)</text>
<text x="206.0" y="505.4" text-anchor="middle">(0.397)</text>
<text x="277.3" y="505.4" text-anchor="middle">(0.424)</text>
<text x="348.5" y="505.4" text-anchor="middle">(0.377)</text>
<text x="421.2" y="505.4" text-anchor="middle">(0.341)</text>
<text x="460.0" y="505.4" text-anchor="middle">(N/A)</text>
<text x="43.3" y="522.5">Median</text>
<text x="133.7" y="521.4" text-anchor="middle">−0.23</text>
<text x="206.0" y="521.4" text-anchor="middle">−0.53</text>
<text x="277.3" y="521.4" text-anchor="middle">−0.87</text>
<text x="348.5" y="521.4" text-anchor="middle">−0.91</text>
<text x="421.2" y="521.4" text-anchor="middle">−0.34</text>
<text x="460.0" y="521.4" text-anchor="middle">−0.58</text>
<text x="43.3" y="537.6">Min</text>
<text x="133.7" y="537.6" text-anchor="middle">−0.9</text>
<text x="206.0" y="537.6" text-anchor="middle">−0.9</text>
<text x="277.3" y="537.6" text-anchor="middle">−1.3</text>
<text x="348.5" y="537.6" text-anchor="middle">−1.4</text>
<text x="421.2" y="537.6" text-anchor="middle">−0.6</text>
<text x="460.0" y="537.6" text-anchor="middle">−0.6</text>
<text x="43.3" y="553.8">Max</text>
<text x="133.7" y="553.8" text-anchor="middle">0.5</text>
<text x="206.0" y="553.8" text-anchor="middle">0.5</text>
<text x="277.3" y="553.8" text-anchor="middle">0.1</text>
<text x="348.5" y="553.8" text-anchor="middle">−0.1</text>
<text x="421.2" y="553.8" text-anchor="middle">−0.1</text>
<text x="460.0" y="553.8" text-anchor="middle">−0.6</text>
</g>
</svg>
<div class="frame"></div>
</body></html>
